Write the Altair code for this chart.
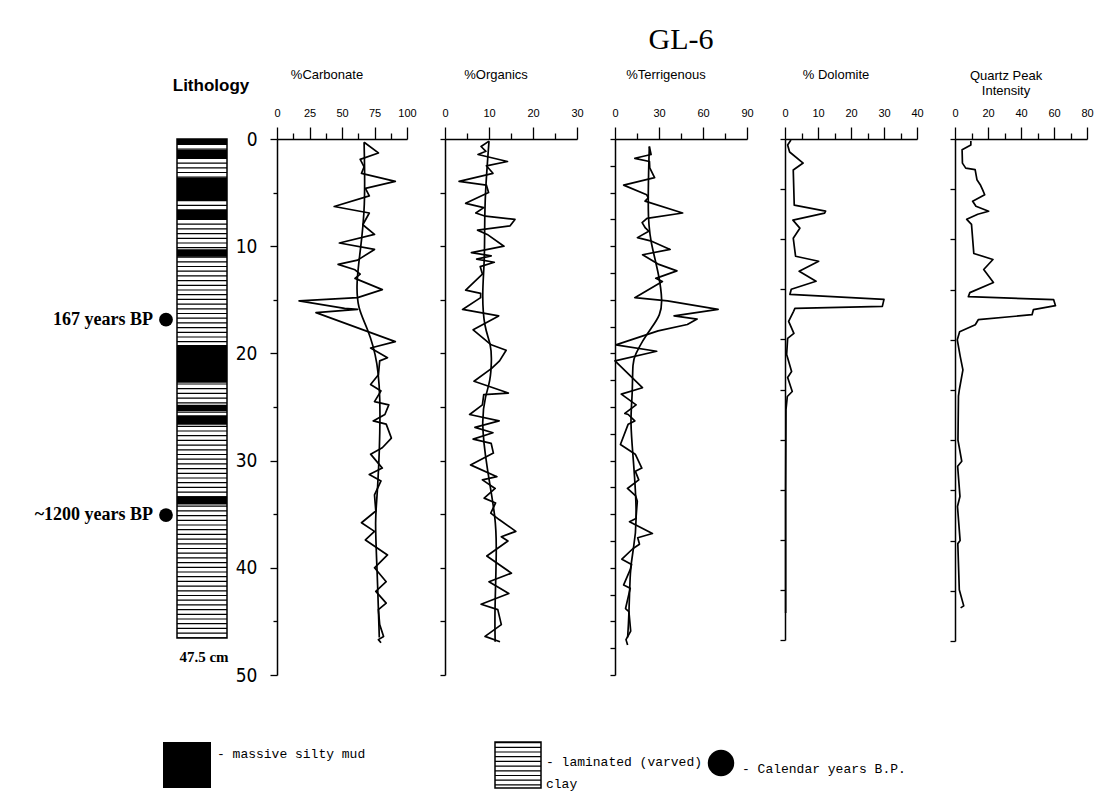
import altair as alt
import pandas as pd

# ---------------- text ----------------
main_title = "GL-6"
lith_title = "Lithology"
panel_titles = ["%Carbonate", "%Organics", "%Terrigenous", "% Dolomite", ["Quartz Peak", "Intensity"]]
dot_labels = ["167 years BP", "~1200 years BP"]
core_length_label = "47.5 cm"
legend_labels = ["- massive silty mud", "- laminated (varved)\n  clay", "- Calendar years B.P."]

# ---------------- axis ticks ----------------
carb_major = [0, 25, 50, 75, 100]
carb_minor = [12.5, 37.5, 62.5, 87.5]
org_major = [0, 10, 20, 30]
org_minor = [5, 15, 25]
ter_major = [0, 30, 60, 90]
ter_minor = [15, 45, 75]
dol_major = [0, 10, 20, 30, 40]
dol_minor = [5, 15, 25, 35]
qtz_major = [0, 20, 40, 60, 80]
qtz_minor = [10, 30, 50, 70]
depth_labels = [0, 10, 20, 30, 40, 50]
depth_ticks = [0, 5, 10, 15, 20, 25, 30, 35, 40, 45, 50]
depth_ticks_fine = [0, 2.5, 5, 7.5, 10, 12.5, 15, 17.5, 20, 22.5, 25, 27.5, 30,
                    32.5, 35, 37.5, 40, 42.5, 45, 47.5, 50]

# ---------------- lithology ----------------
core_bottom = 47.5
mud_top = [0.0, 1.0, 3.7, 6.7, 10.5, 19.6, 25.3, 26.3, 34.0]
mud_bottom = [0.5, 1.8, 5.9, 7.7, 11.2, 23.2, 25.9, 27.2, 34.8]
dot_depths = [17.2, 35.8]

# ---------------- %Carbonate ----------------
carb_depth = [0.3, 1.3, 1.9, 2.6, 3.2, 3.95, 4.6, 5.3, 6.3, 6.9, 8.0, 8.9, 9.7, 10.3, 11.3,
              11.7, 12.2, 12.6, 13.0, 14.05, 14.8, 15.1, 15.8, 15.9, 16.2, 18.9, 19.5, 20.4, 20.7, 22.0,
              22.9, 23.5, 24.5, 24.8, 25.7, 26.3, 26.6, 27.9, 28.8, 29.4, 30.7, 31.3, 31.9, 33.2, 34.7,
              35.8, 36.6, 37.4, 38.8, 40.0, 41.3, 42.2, 43.3, 43.9, 45.3, 46.4, 46.7, 47.0]
carb_val = [67, 78, 64, 67, 65, 91, 68, 71, 44, 71, 66, 75, 48, 75, 62,
            47, 60, 64, 60, 81, 62, 17, 52, 62, 30, 91, 72, 85, 79, 78,
            72, 80, 75, 86, 83, 74, 84, 88, 81, 72, 81, 71, 80, 75, 76,
            65, 75, 68, 85, 75, 84, 76, 84, 78, 79, 82, 78, 80]
carb_s_depth = [0.3, 6.4, 10.5, 13.4, 15.8, 17.6, 20.7, 25.4, 33.2, 35.4, 40.0, 46.5]
carb_s_val = [67, 68, 64, 61, 62, 69.6, 77.8, 80, 77.4, 75.2, 77, 78.7]

# ---------------- %Organics ----------------
org_depth = [0.2, 0.7, 1.15, 1.45, 2.1, 2.5, 3.2, 3.95, 4.3, 5.0, 6.0, 6.4, 6.9, 7.2, 7.5,
             8.1, 8.5, 8.9, 10.0, 10.6, 10.9, 11.2, 11.5, 11.9, 12.6, 14.1, 14.4, 14.8, 15.9, 16.5,
             17.8, 19.2, 19.7, 20.7, 21.4, 22.6, 23.7, 23.85, 24.8, 25.7, 26.3, 26.9, 27.4, 28.0, 28.4,
             29.3, 30.4, 31.5, 31.8, 32.6, 33.5, 33.95, 34.9, 35.5, 36.6, 37.1, 37.5, 38.9, 40.5, 41.3,
             42.4, 43.4, 43.9, 45.3, 46.4, 46.9]
org_val = [10, 8.2, 9.3, 7.5, 14.2, 9.4, 10.9, 3.2, 9.4, 9.9, 4.7, 8.8, 7, 9.2, 15.9,
           14.8, 7.4, 9.6, 13.4, 6, 10.5, 7.2, 11.2, 8, 8.5, 4.7, 8.1, 8.1, 4, 12.2,
           6.4, 10.5, 13.9, 12.4, 10.6, 6.6, 14.4, 8.8, 8.5, 5.6, 12.3, 6.8, 10.9, 6.4, 10.5,
           11, 5.8, 11.8, 8.5, 11.4, 8.9, 11.5, 10.4, 12.3, 16.1, 12.8, 14.3, 9.5, 15.1, 10,
           14.5, 8.2, 12, 12.8, 9.1, 12.5]
org_s_depth = [0.2, 5.2, 8.3, 11.4, 14.5, 17.6, 19.2, 20.7, 22.6, 23.9, 26.3, 30.7, 35.4, 38.4, 41.6, 44.7, 46.9]
org_s_val = [10, 9.1, 9, 9, 8.4, 8.9, 10.5, 10.6, 10.3, 9.2, 8.2, 9.5, 11.6, 11.7, 11.5, 11.3, 11.4]

# ---------------- %Terrigenous ----------------
ter_depth = [0.7, 1.45, 1.8, 2.1, 2.7, 3.6, 4.3, 5.2, 5.5, 5.8, 6.9, 7.4, 7.8, 8.3, 8.6,
             9.2, 9.5, 10.3, 10.8, 11.7, 12.3, 13.0, 13.3, 14.8, 15.1, 15.9, 16.5, 16.8, 17.3, 17.9,
             19.2, 19.8, 20.7, 23.2, 23.8, 24.8, 25.6, 25.7, 26.3, 26.6, 28.5, 29.4, 30.7, 31.0, 31.8,
             32.6, 33.3, 33.8, 35.4, 35.7, 36.8, 37.2, 37.8, 38.2, 39.2, 39.7, 40.2, 41.6, 41.9, 43.8,
             44.1, 45.9, 46.7, 47.2]
ter_val = [23.4, 24.6, 13.5, 23.5, 23.7, 27, 5.9, 21.6, 22.7, 20.5, 46.1, 21.8, 18.5, 20.7, 23,
           15.3, 24.2, 37.6, 18.8, 29.9, 42.2, 27.8, 32.3, 13.5, 35.8, 70.3, 40.3, 56, 49.3, 29.4,
           0.6, 28.4, 0, 18.7, 4.3, 14.4, 6.7, 9, 13.5, 9, 3.7, 13.8, 18.3, 13.9, 16.2,
           8.5, 14.1, 15.2, 14.3, 9.9, 25.5, 15.5, 16.7, 12.3, 4.7, 11.3, 10.3, 5.9, 10.4, 7.2,
           9.5, 10.7, 7.5, 8.6]
ter_s_depth = [0.7, 8.0, 10.5, 12.7, 15.1, 16.4, 17.6, 18.9, 20.1, 20.7, 23.9, 26.3, 30.1, 35.7, 38.5, 40.0, 44.7, 46.5]
ter_s_val = [23.4, 21.9, 26, 30, 32.4, 31, 25, 18.4, 14, 11.9, 12, 10.2, 12.7, 15.4, 12.3, 10.3, 9.5, 8.6]

# ---------------- % Dolomite ----------------
dol_depth = [0.1, 0.6, 1.3, 2.4, 3.1, 6.6, 7.2, 7.4, 8.1, 8.9, 9.9, 11.7, 12.2, 13.2, 14.2,
             15.0, 15.5, 16.0, 16.7, 16.9, 17.2, 18.2, 19.4, 19.9, 21.5, 23.2, 23.8, 25.2, 25.7, 27,
             35, 47.3]
dol_val = [1.8, 0.8, 1.4, 5.5, 2.5, 2.8, 12.3, 12.0, 2.4, 4.5, 2.5, 3.2, 10.2, 4.3, 9.4,
           1.9, 1.5, 30, 29.5, 3, 2.6, 1.1, 2.7, 0.8, 0.5, 2, 0.8, 2.2, 0.7, 0.3,
           0.2, 0.2]

# ---------------- Quartz Peak Intensity ----------------
qtz_depth = [0.2, 0.6, 1.07, 2.4, 2.9, 3.05, 4.05, 4.55, 5.05, 5.55, 6.2, 6.7, 7.2, 7.5, 8.0,
             8.5, 11.4, 12.0, 13.0, 14.3, 15.3, 15.7, 16.0, 16.6, 17.0, 17.5, 18.0, 18.5, 19.2, 20.0,
             21.6, 23.0, 25.0, 25.6, 30.0, 32.1, 32.6, 35.6, 36.6, 40.0, 40.3, 44.9, 46.5, 46.7]
qtz_val = [9.6, 9.6, 4.3, 4.5, 6.5, 12.2, 13.3, 15.3, 16.7, 18, 10.7, 12.7, 20.4, 13.8, 7.1,
           10, 11.4, 23, 17.4, 23.3, 9, 8.1, 59.8, 60.9, 47.5, 46.7, 14.1, 12.3, 2.8, 1.4,
           3.1, 4.8, 2.6, 2.1, 1.8, 4.1, 1.6, 3, 1.5, 3.1, 1.7, 2.6, 5.3, 3.4]

# ---------------- styling ----------------
SANS = "Liberation Sans, Arial, Helvetica, sans-serif"
NARROW = "Liberation Sans Narrow, Arial Narrow, DejaVu Sans Condensed, Liberation Sans, sans-serif"
SERIF = "Liberation Serif, Times New Roman, serif"
MONO = "Liberation Mono, Courier New, monospace"
LW = 1.7


def js_list(vals):
    return "[" + ",".join(str(v) for v in vals) + "]"


def x_axis(major, minor):
    m = js_list(major)
    return alt.Axis(
        orient="top", values=sorted(major + minor),
        labelExpr=f"indexof({m}, datum.value) >= 0 ? datum.label : ''",
        tickSize={"condition": {"test": f"indexof({m}, datum.value) < 0", "value": 6}, "value": 12},
        labelFont=SANS, labelFontSize=11, labelPadding=9, labelFlush=False, labelOverlap=False,
        domainWidth=1.5, tickWidth=1.3, grid=False,
    )


def y_axis_labelled():
    m = js_list(depth_labels)
    return alt.Axis(
        orient="left", values=depth_ticks,
        labelExpr=f"indexof({m}, datum.value) >= 0 ? datum.label : ''",
        tickSize={"condition": {"test": f"indexof({m}, datum.value) < 0", "value": 4}, "value": 7},
        labelFont=NARROW, labelFontSize=19, labelPadding=13, labelFlush=False, labelOverlap=False,
        domainWidth=1.5, tickWidth=1.3, grid=False,
    )


def y_axis_plain(ticks):
    return alt.Axis(orient="left", values=ticks, labels=False, tickSize=5,
                    domainWidth=1.5, tickWidth=1.3, grid=False)


def profile(depth, val, sdepth, sval, title, major, minor, width, height, yaxis, title_offset):
    x = alt.X("value:Q", title=None,
              scale=alt.Scale(domain=[major[0], major[-1]], nice=False, zero=False),
              axis=x_axis(major, minor))
    y = alt.Y("depth:Q", title=None,
              scale=alt.Scale(domain=[0, 50], reverse=True, nice=False, zero=False),
              axis=yaxis)
    layers = [
        alt.Chart(pd.DataFrame({"depth": depth, "value": val}))
        .mark_line(color="black", strokeWidth=LW, strokeJoin="round")
        .encode(x=x, y=y, order="depth:Q")
    ]
    if sdepth:
        layers.append(
            alt.Chart(pd.DataFrame({"depth": sdepth, "value": sval}))
            .mark_line(color="black", strokeWidth=LW, interpolate="basis")
            .encode(x=x, y=y, order="depth:Q")
        )
    return alt.layer(*layers).properties(
        width=width, height=height,
        title=alt.Title(title, font=SANS, fontSize=13, fontWeight="normal", color="black",
                        offset=title_offset, dx=-15),
    )


# ---------------- lithology panel ----------------
lith_scale = alt.Scale(domain=[0, core_bottom], reverse=True, nice=False, zero=False)
core_df = pd.DataFrame({"top": [0.0], "bottom": [core_bottom], "label": [core_length_label]})
mud_df = pd.DataFrame({"top": mud_top, "bottom": mud_bottom})
dots_df = pd.DataFrame({"depth": dot_depths, "label": dot_labels})

col_x, col_x2 = 18, 68

laminae = alt.Chart(core_df).mark_rule(color="black", strokeWidth=col_x2 - col_x, strokeDash=[1.2, 3.5],
                                       strokeCap="butt").encode(
    x=alt.value((col_x + col_x2) / 2),
    y=alt.Y("top:Q", scale=lith_scale, axis=None, title=None), y2="bottom:Q")
mud = alt.Chart(mud_df).mark_rect(color="black").encode(
    x=alt.value(col_x), x2=alt.value(col_x2),
    y=alt.Y("top:Q", scale=lith_scale, axis=None, title=None), y2="bottom:Q")
outline = alt.Chart(core_df).mark_rect(fillOpacity=0, stroke="black", strokeWidth=1.5).encode(
    x=alt.value(col_x), x2=alt.value(col_x2),
    y=alt.Y("top:Q", scale=lith_scale, axis=None, title=None), y2="bottom:Q")
length_txt = alt.Chart(core_df).mark_text(font=SERIF, fontSize=15, fontWeight="bold", dy=19,
                                          baseline="middle", color="black").encode(
    x=alt.value(45), y=alt.Y("bottom:Q", scale=lith_scale, axis=None, title=None), text="label:N")
dots = alt.Chart(dots_df).mark_circle(size=190, color="black", opacity=1).encode(
    x=alt.value(7), y=alt.Y("depth:Q", scale=lith_scale, axis=None, title=None))
dot_txt = alt.Chart(dots_df).mark_text(font=SERIF, fontSize=18, fontWeight="bold", align="right",
                                       baseline="middle", color="black").encode(
    x=alt.value(-6), y=alt.Y("depth:Q", scale=lith_scale, axis=None, title=None), text="label:N")

# legend (drawn below the panels)
leg0 = pd.DataFrame({"label": [legend_labels[0]]})
leg1 = pd.DataFrame({"label": [legend_labels[1]]})
leg2 = pd.DataFrame({"label": [legend_labels[2]]})
leg_mud = alt.Chart(leg0).mark_rect(color="black").encode(
    x=alt.value(4), x2=alt.value(52), y=alt.value(603), y2=alt.value(649))
leg_mud_t = alt.Chart(leg0).mark_text(font=MONO, fontSize=13, align="left", baseline="middle",
                                      color="black").encode(
    x=alt.value(58), y=alt.value(615), text="label:N")
leg_lam = alt.Chart(leg1).mark_rule(color="black", strokeWidth=46, strokeDash=[1.2, 3.5],
                                    strokeCap="butt").encode(
    x=alt.value(359), y=alt.value(603), y2=alt.value(649))
leg_lam_o = alt.Chart(leg1).mark_rect(fillOpacity=0, stroke="black", strokeWidth=1.5).encode(
    x=alt.value(336), x2=alt.value(382), y=alt.value(603), y2=alt.value(649))
leg_lam_t = alt.Chart(leg1).mark_text(font=MONO, fontSize=13, align="left", baseline="top",
                                      lineBreak="\n", lineHeight=22, color="black").encode(
    x=alt.value(387), y=alt.value(617), text="label:N")
leg_dot = alt.Chart(leg2).mark_circle(size=700, color="black", opacity=1).encode(
    x=alt.value(562), y=alt.value(624))
leg_dot_t = alt.Chart(leg2).mark_text(font=MONO, fontSize=13, align="left", baseline="middle",
                                      color="black").encode(
    x=alt.value(583), y=alt.value(630), text="label:N")

lith = alt.layer(laminae, mud, outline, length_txt, dots, dot_txt,
                 leg_mud, leg_mud_t, leg_lam, leg_lam_o, leg_lam_t, leg_dot, leg_dot_t).properties(
    width=80, height=499,
    title=alt.Title(lith_title, font=SANS, fontSize=17, fontWeight="bold", color="black",
                    offset=19, dx=12),
)

carb = profile(carb_depth, carb_val, carb_s_depth, carb_s_val, panel_titles[0],
               carb_major, carb_minor, 130, 536, y_axis_labelled(), 25)
org = profile(org_depth, org_val, org_s_depth, org_s_val, panel_titles[1],
              org_major, org_minor, 132, 536, y_axis_plain(depth_ticks), 25)
ter = profile(ter_depth, ter_val, ter_s_depth, ter_s_val, panel_titles[2],
              ter_major, ter_minor, 132, 536, y_axis_plain(depth_ticks_fine), 25)
dol = profile(dol_depth, dol_val, None, None, panel_titles[3],
              dol_major, dol_minor, 132, 501, y_axis_plain(depth_ticks), 25)
qtz = profile(qtz_depth, qtz_val, None, None, panel_titles[4],
              qtz_major, qtz_minor, 132, 502, y_axis_plain(depth_ticks), 9)

chart = alt.hconcat(lith, carb, org, ter, dol, qtz, spacing=38, bounds="flush").properties(
    title=alt.Title(main_title, font=SERIF, fontSize=30, fontWeight="normal", color="black",
                    anchor="middle", frame="group", dx=522, offset=14),
    padding={"left": 34, "top": 25, "right": 5, "bottom": 0},
).configure_view(strokeWidth=0).configure_axis(
    domainColor="black", tickColor="black", labelColor="black"
)

chart.save("out.html", embed_options={"renderer": "svg", "actions": False})
